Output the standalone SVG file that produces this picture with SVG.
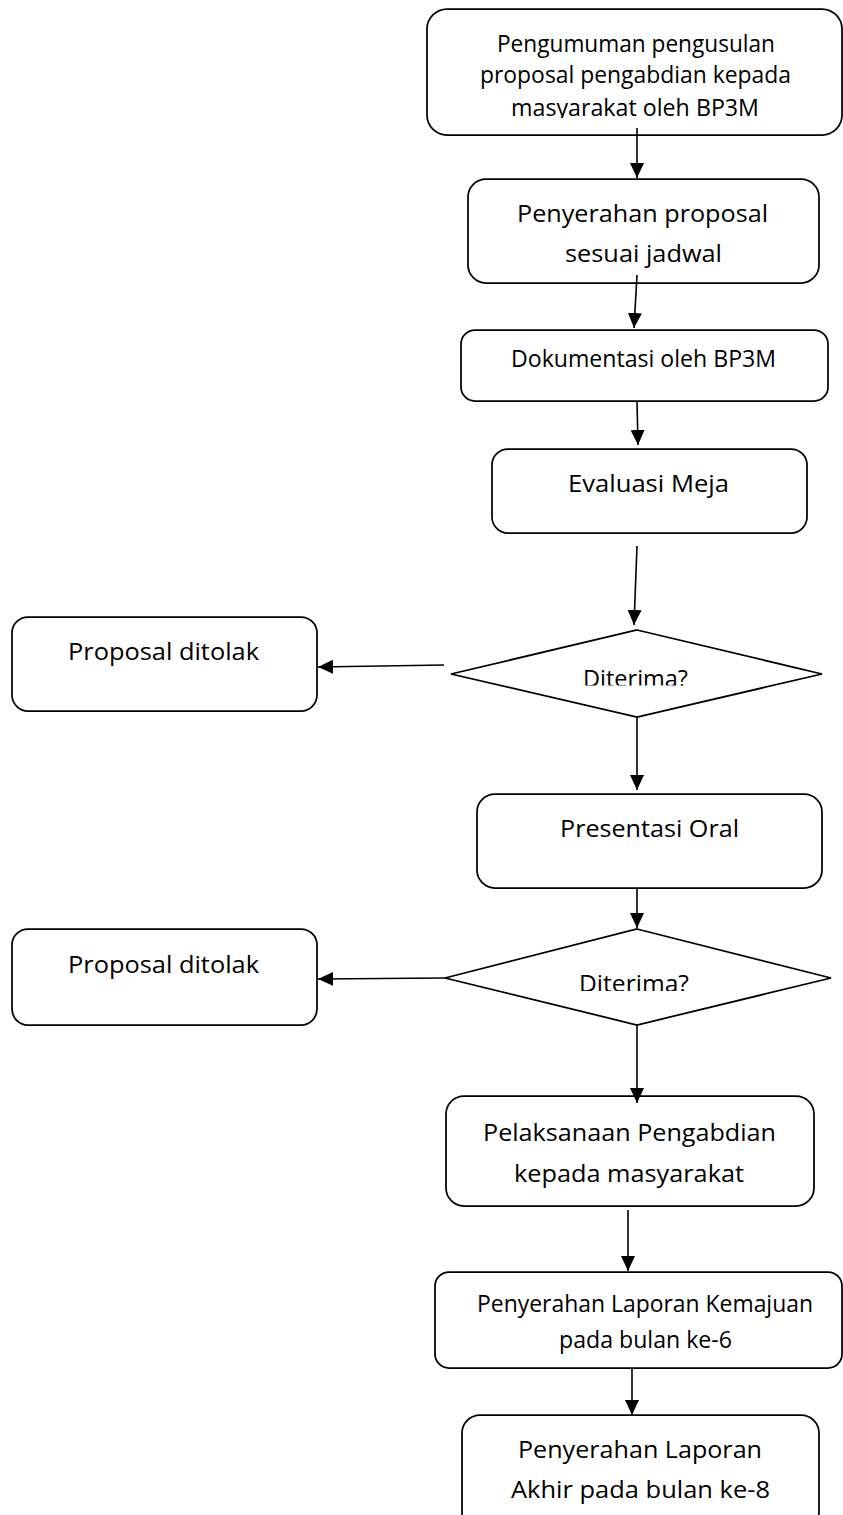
<svg xmlns="http://www.w3.org/2000/svg" width="843" height="1515" viewBox="0 0 843 1515">
<style>
.box{fill:#fff;stroke:#000;stroke-width:1.75}
.t{font-family:"Open Sans","Noto Sans","Liberation Sans",sans-serif;fill:#000;font-size:23px}
.c{fill:none;stroke:#000;stroke-width:1.6}
</style>
<defs>
<marker id="ah" markerUnits="userSpaceOnUse" markerWidth="16" markerHeight="15" refX="15" refY="7" orient="auto">
<path d="M0,0 L15,7 L0,14 z" fill="#000"/>
</marker>
<clipPath id="clip1"><rect x="427" y="9" width="415" height="109"/></clipPath>
<clipPath id="clipD1"><rect x="440" y="620" width="400" height="65.5"/></clipPath>
<clipPath id="clipD2"><rect x="440" y="920" width="400" height="71"/></clipPath>
</defs>
<rect width="843" height="1515" fill="#fff"/>
<g id="n1">
<rect class="box" x="427" y="9" width="415" height="126" rx="20"/>
<g clip-path="url(#clip1)">
<text class="t" x="497" y="52" font-size="22" textLength="278" lengthAdjust="spacingAndGlyphs">Pengumuman pengusulan</text>
<text class="t" x="480" y="83" font-size="22" textLength="311" lengthAdjust="spacingAndGlyphs">proposal pengabdian kepada</text>
<text class="t" x="511" y="116" font-size="22" textLength="248" lengthAdjust="spacingAndGlyphs">masyarakat oleh BP3M</text>
</g>
</g>
<g id="n2">
<rect class="box" x="468" y="179" width="351" height="104" rx="18"/>
<text class="t" x="517" y="222" font-size="24" textLength="251" lengthAdjust="spacingAndGlyphs">Penyerahan proposal</text>
<text class="t" x="565" y="262" font-size="24" textLength="157" lengthAdjust="spacingAndGlyphs">sesuai jadwal</text>
</g>
<g id="n3">
<rect class="box" x="461" y="330" width="367" height="71" rx="14"/>
<text class="t" x="511" y="367" textLength="265" lengthAdjust="spacingAndGlyphs">Dokumentasi oleh BP3M</text>
</g>
<g id="n4">
<rect class="box" x="492" y="449" width="315" height="84" rx="16"/>
<text class="t" x="568" y="492" font-size="24" textLength="161" lengthAdjust="spacingAndGlyphs">Evaluasi Meja</text>
</g>
<g id="d1">
<polygon class="box" points="637,630 822,674 637,717 451,674"/>
<text class="t" x="583" y="686.5" font-size="20" textLength="105" lengthAdjust="spacingAndGlyphs" clip-path="url(#clipD1)">Diterima?</text>
</g>
<g id="r1">
<rect class="box" x="12" y="617" width="305" height="94" rx="16"/>
<text class="t" x="68" y="660" textLength="191" lengthAdjust="spacingAndGlyphs">Proposal ditolak</text>
</g>
<g id="n5">
<rect class="box" x="477" y="794" width="345" height="94" rx="18"/>
<text class="t" x="560" y="837" textLength="179" lengthAdjust="spacingAndGlyphs">Presentasi Oral</text>
</g>
<g id="d2">
<polygon class="box" points="637,929 831,978 637,1025 445,978"/>
<text class="t" x="579" y="991.5" font-size="22" textLength="110" lengthAdjust="spacingAndGlyphs" clip-path="url(#clipD2)">Diterima?</text>
</g>
<g id="r2">
<rect class="box" x="12" y="929" width="305" height="96" rx="16"/>
<text class="t" x="68" y="973" textLength="191" lengthAdjust="spacingAndGlyphs">Proposal ditolak</text>
</g>
<g id="n6">
<rect class="box" x="446" y="1096" width="368" height="110" rx="18"/>
<text class="t" x="483" y="1141" textLength="293" lengthAdjust="spacingAndGlyphs">Pelaksanaan Pengabdian</text>
<text class="t" x="514" y="1182" textLength="230" lengthAdjust="spacingAndGlyphs">kepada masyarakat</text>
</g>
<g id="n7">
<rect class="box" x="435" y="1272" width="407" height="96" rx="14"/>
<text class="t" x="477" y="1312" font-size="21" textLength="336" lengthAdjust="spacingAndGlyphs">Penyerahan Laporan Kemajuan</text>
<text class="t" x="559" y="1348" font-size="21" textLength="173" lengthAdjust="spacingAndGlyphs">pada bulan ke-6</text>
</g>
<g id="n8">
<rect class="box" x="462" y="1415" width="357" height="115" rx="18"/>
<text class="t" x="518" y="1458" textLength="244" lengthAdjust="spacingAndGlyphs">Penyerahan Laporan</text>
<text class="t" x="511" y="1498" textLength="259" lengthAdjust="spacingAndGlyphs">Akhir pada bulan ke-8</text>
</g>
<g id="connectors">
<line class="c" x1="637" y1="128" x2="637" y2="178" marker-end="url(#ah)"/>
<line class="c" x1="637" y1="275" x2="634" y2="328" marker-end="url(#ah)"/>
<line class="c" x1="637" y1="401" x2="638" y2="445" marker-end="url(#ah)"/>
<line class="c" x1="637" y1="546" x2="634" y2="625" marker-end="url(#ah)"/>
<line class="c" x1="444" y1="665" x2="318" y2="667" marker-end="url(#ah)"/>
<line class="c" x1="637" y1="717" x2="637" y2="790" marker-end="url(#ah)"/>
<line class="c" x1="637" y1="888" x2="637" y2="928" marker-end="url(#ah)"/>
<line class="c" x1="445" y1="978" x2="318" y2="979" marker-end="url(#ah)"/>
<line class="c" x1="637" y1="1025" x2="637" y2="1103" marker-end="url(#ah)"/>
<line class="c" x1="628" y1="1210" x2="628" y2="1271" marker-end="url(#ah)"/>
<line class="c" x1="632" y1="1368" x2="632" y2="1415" marker-end="url(#ah)"/>
</g>
</svg>
